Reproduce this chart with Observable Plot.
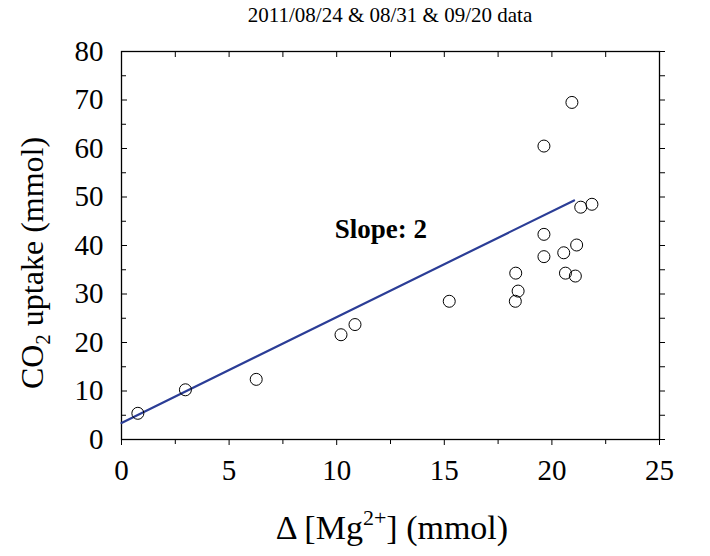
<!DOCTYPE html>
<html>
<head>
<meta charset="utf-8">
<script src="https://cdn.jsdelivr.net/npm/d3@7"></script>
<script src="https://cdn.jsdelivr.net/npm/@observablehq/plot@0.6"></script>
<style>
  html, body { margin: 0; padding: 0; background: #fff; }
  svg text { font-family: "Liberation Serif", Tinos, "Times New Roman", Times, "DejaVu Serif", serif !important; }
</style>
</head>
<body>
<div id="chart"></div>
<script>
const deltaMg = [0.76, 2.97, 6.26, 10.2, 10.85, 15.23, 18.3, 18.43, 18.32, 19.63, 19.63, 19.63, 20.93, 20.55, 21.15, 20.63, 21.09, 21.34, 21.86];
const co2Uptake = [5.4, 10.25, 12.4, 21.6, 23.7, 28.5, 28.5, 30.6, 34.3, 37.7, 42.3, 60.5, 69.5, 38.5, 40.1, 34.3, 33.7, 47.9, 48.5];
const fitX = [0, 21.03];
const fitY = [3.4, 49.3];
const xTicks = [0, 5, 10, 15, 20, 25];
const xMinor = [2.5, 7.5, 12.5, 17.5, 22.5];
const yTicks = [0, 10, 20, 30, 40, 50, 60, 70, 80];
const yMinor = [5, 15, 25, 35, 45, 55, 65, 75];
const titleText = "2011/08/24 & 08/31 & 09/20 data";
const slopeLabel = "Slope: 2";

const points = deltaMg.map((x, i) => ({x, y: co2Uptake[i]}));
const fit = fitX.map((x, i) => ({x, y: fitY[i]}));
const serif = "Liberation Serif, Tinos, Times New Roman, Times, DejaVu Serif, serif";

const chart = Plot.plot({
  width: 710,
  height: 556,
  marginLeft: 121,
  marginRight: 51,
  marginTop: 51,
  marginBottom: 117,
  style: {fontFamily: serif, background: "#fff", color: "#000"},
  x: {domain: [0, 25]},
  y: {domain: [0, 80]},
  marks: [
    Plot.frame({stroke: "#000", strokeWidth: 1.3}),
    Plot.axisX({ticks: xTicks, tickSize: 6, tickPadding: 14, fontSize: 29, tickFormat: d => String(d), label: null, strokeWidth: 1}),
    Plot.axisX({ticks: xMinor, tickSize: 5, tickFormat: () => "", label: null}),
    Plot.axisX({anchor: "top", ticks: xTicks.concat(xMinor), tickSize: -5, tickFormat: () => "", label: null}),
    Plot.axisY({ticks: yTicks, tickSize: -6, tickPadding: 24, fontSize: 29, tickFormat: d => String(d), label: null}),
    Plot.axisY({ticks: yMinor, tickSize: -5, tickFormat: () => "", label: null}),
    Plot.axisY({anchor: "right", ticks: yTicks.concat(yMinor), tickSize: 5, tickFormat: () => "", label: null}),
    Plot.line(fit, {x: "x", y: "y", stroke: "#2b3d96", strokeWidth: 2.2}),
    Plot.dot(points, {x: "x", y: "y", r: 6, stroke: "#000", strokeWidth: 1, fill: "none"}),
    Plot.text([slopeLabel], {x: 12.05, y: 43.3, text: d => d, fontSize: 27, fontWeight: "bold", fill: "#000"})
  ]
});

const svg = d3.select(chart);
svg.append("text")
  .attr("x", 390).attr("y", 22)
  .attr("text-anchor", "middle")
  .attr("font-size", 21).attr("fill", "#000")
  .text(titleText);

const xt = svg.append("text")
  .attr("x", 392).attr("y", 539)
  .attr("text-anchor", "middle")
  .attr("font-size", 34).attr("fill", "#000");
xt.append("tspan").text("\u0394 [Mg");
xt.append("tspan").attr("font-size", 22).attr("dy", -14).text("2+");
xt.append("tspan").attr("dy", 14).text("] (mmol)");

const yt = svg.append("text")
  .attr("transform", "translate(43,263) rotate(-90)")
  .attr("text-anchor", "middle")
  .attr("font-size", 32).attr("fill", "#000");
yt.append("tspan").text("CO");
yt.append("tspan").attr("font-size", 21).attr("dy", 7).text("2");
yt.append("tspan").attr("dy", -7).text(" uptake (mmol)");

document.getElementById("chart").appendChild(chart);
</script>
</body>
</html>
